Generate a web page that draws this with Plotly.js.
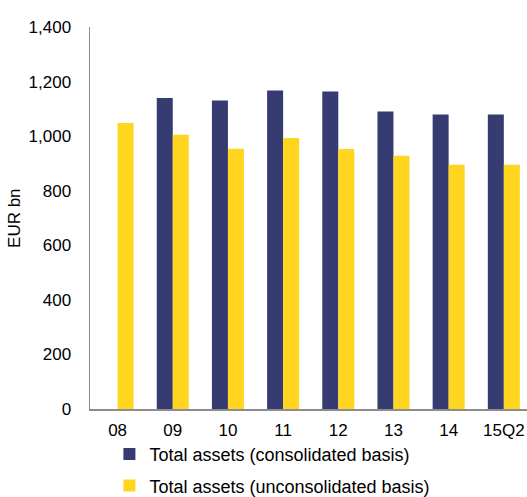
<!DOCTYPE html>
<html>
<head>
<meta charset="utf-8">
<script src="https://cdn.plot.ly/plotly-3.0.1.min.js"></script>
<style>html,body{margin:0;padding:0;background:#fff;}#chart{width:527px;height:497px;}</style>
</head>
<body>
<div id="chart"></div>
<script>
const categories = ["08", "09", "10", "11", "12", "13", "14", "15Q2"];
const consolidated = [null, 1140, 1131, 1167, 1164, 1090, 1079, 1079];
const unconsolidated = [1048, 1005, 954, 993, 953, 928, 895, 895];
const yTicks = [0, 200, 400, 600, 800, 1000, 1200, 1400];
const yTickLabels = ["0", "200", "400", "600", "800", "1,000", "1,200", "1,400"];
const yTitle = "EUR bn";

const FONT = "Liberation Sans, Arial, sans-serif";

const traces = [
  {type: "bar", name: "Total assets (consolidated basis)", x: categories, y: consolidated,
   marker: {color: "#363B71"}, legendgroup: "a"},
  {type: "bar", name: "Total assets (unconsolidated basis)", x: categories, y: unconsolidated,
   marker: {color: "#FFD520"}, legendgroup: "b"}
];

const layout = {
  width: 527, height: 497,
  margin: {l: 90, r: 0, t: 27, b: 88, autoexpand: false},
  paper_bgcolor: "#fff", plot_bgcolor: "#fff",
  font: {family: FONT, size: 17, color: "#000"},
  barmode: "group", bargap: 0.42, bargroupgap: 0,
  showlegend: true,
  legend: {xref: "container", yref: "container", x: 0.2076, y: 0.123, xanchor: "left", yanchor: "top",
           orientation: "v", traceorder: "grouped", tracegroupgap: 5, bgcolor: "rgba(0,0,0,0)",
           font: {family: FONT, size: 18, color: "#000"}},
  xaxis: {type: "category", range: [-0.5, 7.42], showline: true, linecolor: "#8c8c8c", linewidth: 1.5,
          showgrid: false, zeroline: false, ticks: "outside", ticklen: 5, tickcolor: "rgba(0,0,0,0)",
          tickfont: {family: FONT, size: 17}},
  yaxis: {range: [0, 1400], tickvals: yTicks, ticktext: yTickLabels, showline: true, linecolor: "#8c8c8c",
          linewidth: 1.5, showgrid: false, zeroline: false, ticks: "outside", ticklen: 14,
          tickcolor: "rgba(0,0,0,0)", tickfont: {family: FONT, size: 17}},
  annotations: [{text: yTitle, xref: "paper", yref: "paper", x: -0.174, y: 0.5, textangle: -90,
                 showarrow: false, xanchor: "center", yanchor: "middle", font: {family: FONT, size: 17}}]
};

Plotly.newPlot("chart", traces, layout, {displayModeBar: false, staticPlot: true});
</script>
</body>
</html>
